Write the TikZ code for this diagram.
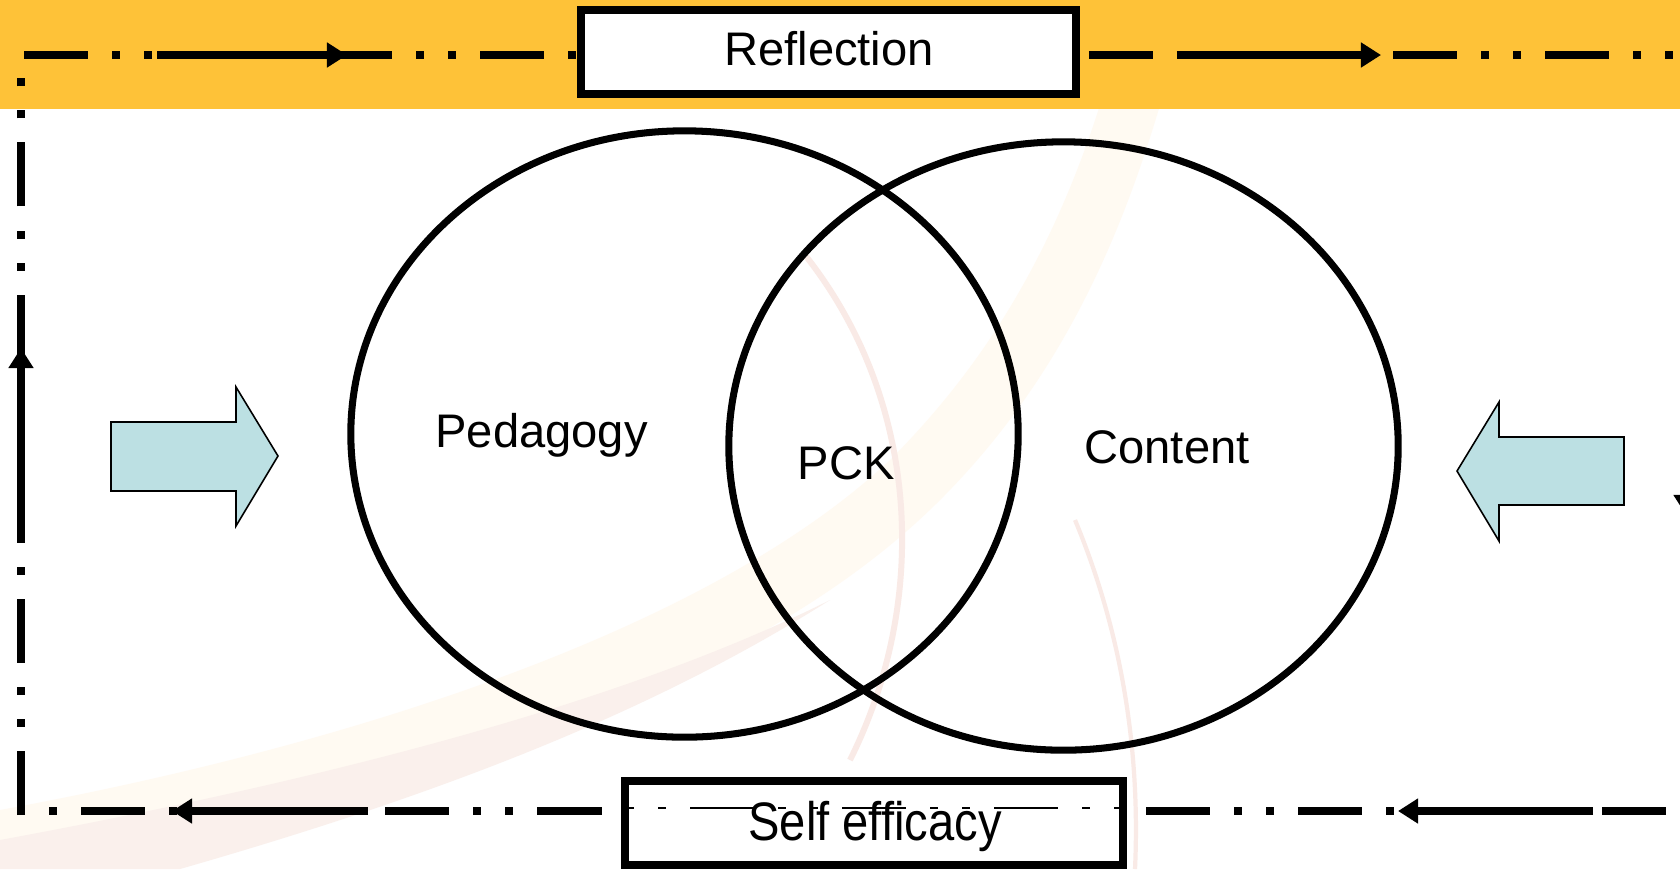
\documentclass[tikz,border=0pt]{standalone}
\usepackage{fontspec}
\setmainfont{Liberation Sans}
\usetikzlibrary{arrows.meta,shapes.geometric}
\definecolor{bandcol}{RGB}{254,194,56}
\definecolor{blockfill}{RGB}{188,224,227}
\definecolor{creamcol}{RGB}{255,250,242}
\definecolor{pinkcol}{RGB}{250,240,236}
\definecolor{pinkline}{RGB}{249,234,230}
\tikzset{
  frameline/.style={line width=2.28pt, dash pattern=on 18.21pt off 6.83pt on 2.28pt off 6.83pt on 2.28pt off 6.83pt},
  thinframe/.style={line width=0.45pt, dash pattern=on 18.21pt off 6.83pt on 2.28pt off 6.83pt on 2.28pt off 6.83pt},
  solidarrow/.style={line width=2.28pt, -{Triangle[length=5.7pt,width=6.8pt]}},
  labelbox/.style={draw, line width=2.28pt, fill=white, minimum width=4.96cm, minimum height=0.84cm, inner sep=0pt, outer sep=0pt},
  venn/.style={ellipse, draw, line width=2.0pt, inner sep=0pt, outer sep=0pt},
  lbl/.style={font=\fontsize{13.4pt}{16pt}\selectfont, anchor=base, inner sep=0pt},
  blockarrow/.style={draw, line width=0.45pt, fill=blockfill},
}
\begin{document}
\begin{tikzpicture}[x=0.01cm,y=-0.01cm]
\useasboundingbox (0,0) rectangle (1680,869);
\clip (0,0) rectangle (1680,869);
\fill[white] (0,0) rectangle (1680,869);
% faint background swooshes
\fill[creamcol] (0,869) .. controls (400,800) and (750,690) .. (940,500)
  .. controls (1060,380) and (1120,240) .. (1160,105) -- (1100,105)
  .. controls (1060,230) and (1000,350) .. (890,460)
  .. controls (720,620) and (380,740) .. (0,810) -- cycle;
\fill[pinkcol] (0,869) -- (180,869) .. controls (420,800) and (640,720) .. (830,600)
  .. controls (650,690) and (380,770) .. (0,840) -- cycle;
\draw[pinkline, line width=1.7pt] (805,255) .. controls (920,400) and (930,600) .. (850,760);
\draw[pinkline, line width=1.2pt] (1075,520) .. controls (1125,640) and (1140,760) .. (1135,869);
% orange band
\fill[bandcol] (0,0) rectangle (1680,109);
% Venn ellipses
\node[venn, minimum width=6.67cm, minimum height=6.06cm] (ped) at (684.5,434) {};
\node[venn, minimum width=6.69cm, minimum height=6.08cm] (con) at (1063.5,446) {};
% frame corners
\coordinate (tl) at (24,55);   \coordinate (tr) at (1700,55);
\coordinate (lb) at (21,815);  \coordinate (lt) at (21,55);
\coordinate (bl) at (17,811);  \coordinate (br) at (1700,811);
\coordinate (rt) at (1686,55); \coordinate (rb) at (1686,811);
\draw[frameline] (tl) -- (tr);
\draw[frameline] (lb) -- (lt);
\draw[frameline, dash phase=25.04pt] (bl) -- (br);
\draw[frameline] (rt) -- (rb);
% solid arrows on the frame
\coordinate (a1s) at (157,55);   \coordinate (a1e) at (347,55);
\coordinate (a2s) at (1178,55);  \coordinate (a2e) at (1381,55);
\coordinate (a3s) at (21,540);   \coordinate (a3e) at (21,348);
\coordinate (a4s) at (368,811);  \coordinate (a4e) at (172,811);
\coordinate (a5s) at (1593,811); \coordinate (a5e) at (1398,811);
\coordinate (a6s) at (1686,330); \coordinate (a6e) at (1686,515);
\draw[solidarrow] (a1s) -- (a1e);
\draw[solidarrow] (a2s) -- (a2e);
\draw[solidarrow] (a3s) -- (a3e);
\draw[solidarrow] (a4s) -- (a4e);
\draw[solidarrow] (a5s) -- (a5e);
\draw[solidarrow] (a6s) -- (a6e);
% label boxes
\node[labelbox, minimum width=4.95cm] (refl) at (828.5,52) {};
\node[lbl] (refltxt) at (829,65) {Reflection};
\node[labelbox, minimum width=4.98cm] (self) at (874,823) {};
\coordinate (sl) at (629,808); \coordinate (sr) at (1119,808);
\draw[thinframe, dash phase=25.9pt] (sl) -- (sr);
\node[lbl, yscale=1.15] (selftxt) at (875,840) {Self efficacy};
% Venn labels
\node[lbl] (pedtxt) at (541.5,447) {Pedagogy};
\node[lbl] (pcktxt) at (846,479) {PCK};
\node[lbl] (contxt) at (1167,463) {Content};
% block arrows
\draw[blockarrow] (111,422) -- (236,422) -- (236,387) -- (278,456) -- (236,526) -- (236,491) -- (111,491) -- cycle;
\draw[blockarrow] (1624,437) -- (1499,437) -- (1499,402) -- (1457,471) -- (1499,541) -- (1499,505) -- (1624,505) -- cycle;
\end{tikzpicture}
\end{document}
